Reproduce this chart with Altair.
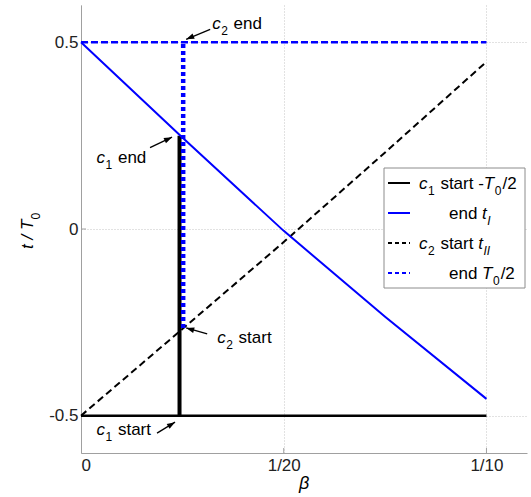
import math
import altair as alt
import pandas as pd

# ---- axis ranges and plot geometry ----
BETA_MAX = 0.11
T_MIN, T_MAX = -0.6, 0.6
W, H = 446, 448
PAD_L, PAD_T = 81, 5

# ---- curves over beta ----
beta_grid = [0.0, 0.025, 0.05, 0.075, 0.1]
t_end_I = [0.5, 0.245, -0.005, -0.235, -0.455]        # end t_I (blue solid)
t_start_II = [-0.5, -0.268, -0.035, 0.205, 0.448]     # c2 start t_II (black dashed)

# constant levels -T0/2 and T0/2
level_beta = [0.0, 0.1]
level_low = -0.5
level_high = 0.5

# the two chosen intervals
beta_c1 = 0.0243
c1_span = [-0.5, 0.25]
beta_c2 = 0.0252
c2_span = [-0.265, 0.5]

x_ticks = [0.0, 0.05, 0.1]
x_tick_labels = ["0", "1/20", "1/10"]
y_ticks = [-0.5, 0.0, 0.5]
y_tick_labels = ["-0.5", "0", "0.5"]

FONT = "Liberation Sans"
BLUE = "#0000ff"
BLACK = "#000000"
AXIS_GRAY = "#a0a0a0"
TEXT = "#222222"


def label_expr(values, labels):
    expr = "''"
    for v, s in reversed(list(zip(values, labels))):
        expr = f"abs(datum.value - ({v})) < 1e-9 ? '{s}' : ({expr})"
    return expr


def px(beta):
    return W * beta / BETA_MAX


def py(t):
    return H * (T_MAX - t) / (T_MAX - T_MIN)


xs = alt.Scale(domain=[0, BETA_MAX], nice=False, zero=False)
ys = alt.Scale(domain=[T_MIN, T_MAX], nice=False, zero=False)

x_axis = alt.Axis(values=x_ticks, labelExpr=label_expr(x_ticks, x_tick_labels),
                  title=None, grid=True, gridDash=[1, 2], gridColor="#c4c4c4",
                  domainColor=AXIS_GRAY, tickSize=0, labelPadding=4,
                  labelFont=FONT, labelFontSize=17, labelColor=TEXT)
y_axis = alt.Axis(values=y_ticks, labelExpr=label_expr(y_ticks, y_tick_labels),
                  title=None, grid=True, gridDash=[1, 2], gridColor="#c4c4c4",
                  domainColor=AXIS_GRAY, tickSize=0, labelPadding=3,
                  labelFont=FONT, labelFontSize=17, labelColor=TEXT)

curves = pd.DataFrame({"beta": beta_grid, "t_I": t_end_I, "t_II": t_start_II})
levels = pd.DataFrame({"beta": [level_beta[0]], "beta2": [level_beta[1]],
                       "low": [level_low], "high": [level_high]})
verticals = pd.DataFrame({"beta": [beta_c1, beta_c2],
                          "t0": [c1_span[0], c2_span[0]],
                          "t1": [c1_span[1], c2_span[1]],
                          "which": ["c1", "c2"]})

axes_layer = alt.Chart(curves).mark_point(opacity=0).encode(
    x=alt.X("beta:Q", scale=xs, axis=x_axis),
    y=alt.Y("t_I:Q", scale=ys, axis=y_axis),
)

# inward tick marks
xtick_df = pd.DataFrame({"v": x_ticks[1:]})
ytick_df = pd.DataFrame({"v": y_ticks})
xticks_layer = alt.Chart(xtick_df).mark_rule(color=AXIS_GRAY, strokeWidth=1).encode(
    x=alt.X("v:Q", scale=xs), y=alt.value(H), y2=alt.value(H - 5))
yticks_layer = alt.Chart(ytick_df).mark_rule(color=AXIS_GRAY, strokeWidth=1).encode(
    y=alt.Y("v:Q", scale=ys), x=alt.value(0), x2=alt.value(5))

low_line = alt.Chart(levels).mark_rule(color=BLACK, strokeWidth=2.5).encode(
    x=alt.X("beta:Q", scale=xs), x2="beta2:Q", y=alt.Y("low:Q", scale=ys))
high_line = alt.Chart(levels).mark_rule(color=BLUE, strokeWidth=2.5,
                                         strokeDash=[7, 3]).encode(
    x=alt.X("beta:Q", scale=xs), x2="beta2:Q", y=alt.Y("high:Q", scale=ys))

t2_line = alt.Chart(curves).mark_line(color=BLACK, strokeWidth=2,
                                      strokeDash=[7, 4]).encode(
    x=alt.X("beta:Q", scale=xs), y=alt.Y("t_II:Q", scale=ys))
t1_line = alt.Chart(curves).mark_line(color=BLUE, strokeWidth=2).encode(
    x=alt.X("beta:Q", scale=xs), y=alt.Y("t_I:Q", scale=ys))

c1_bar = alt.Chart(verticals).transform_filter("datum.which == 'c1'").mark_rule(
    color=BLACK, strokeWidth=4).encode(
    x=alt.X("beta:Q", scale=xs), y=alt.Y("t0:Q", scale=ys), y2="t1:Q")
c2_bar = alt.Chart(verticals).transform_filter("datum.which == 'c2'").mark_rule(
    color=BLUE, strokeWidth=4.5, strokeDash=[4, 3], strokeCap="butt").encode(
    x=alt.X("beta:Q", scale=xs), y=alt.Y("t0:Q", scale=ys), y2="t1:Q")

# ---- text layout helpers (Arial-style advance widths, per 1000 em) ----
ADV = {" ": 278, "-": 333, "/": 278, "a": 556, "c": 500, "d": 556, "e": 556,
       "n": 556, "r": 333, "s": 500, "t": 278, "T": 611, "I": 278}
for d in "0123456789":
    ADV[d] = 556


def text_width(s, size):
    return sum(ADV.get(ch, 556) for ch in s) / 1000 * size


def lay_out(x0, base, tokens, size=17, sub_size=12):
    """Place a run of text pieces left to right.

    kinds: 'n' upright, 'i' italic, 's' upright subscript, 'si' italic subscript.
    Leading/trailing blanks are turned into advances (SVG drops them)."""
    rows, x = [], x0
    for text, kind in tokens:
        sub = kind.startswith("s")
        fs = sub_size if sub else size
        lead = len(text) - len(text.lstrip(" "))
        x += lead * text_width(" ", fs)
        core = text.strip(" ")
        rows.append(dict(x=x + (0.5 if sub else 0), y=base + (6 if sub else 0),
                         text=core, size=fs,
                         italic=kind in ("i", "si"), angle=0))
        x += text_width(core, fs) + (1.5 if sub else 0)
        trail = len(text) - len(text.rstrip(" "))
        x += trail * text_width(" ", fs)
    return rows


texts = []
arrows = []

# annotations: target point, arrow tip / tail and text start as pixel offsets
annotations = [
    ((beta_c2, c2_span[1]), (3, -3), (27, -13), (29, -13), [("c", "i"), ("2", "s"), (" end", "n")]),
    ((beta_c1, c1_span[1]), (-7.5, 1.5), (-29.5, 12), (-83, 27), [("c", "i"), ("1", "s"), (" end", "n")]),
    ((beta_c2, c2_span[0]), (3, 0), (24, 6), (34, 15), [("c", "i"), ("2", "s"), (" start", "n")]),
    ((beta_c1, c1_span[0]), (-4.5, 6.5), (-22.5, 17.5), (-83, 19.5), [("c", "i"), ("1", "s"), (" start", "n")]),
]
for (b, t), tip, tail, tpos, tokens in annotations:
    X, Y = px(b), py(t)
    tx, ty = X + tip[0], Y + tip[1]
    sx, sy = X + tail[0], Y + tail[1]
    ang = math.degrees(math.atan2(tx - sx, -(ty - sy))) % 360
    arrows.append(dict(x=sx, y=sy, x2=tx, y2=ty, angle=ang))
    texts += lay_out(X + tpos[0], Y + tpos[1], tokens)

# legend
LEG_X0, LEG_X1 = 303, 444
LEG_Y0, LEG_Y1 = 163, 283
leg_rows = [178, 208, 238, 268]
legend_entries = [
    (BLACK, False, 338, [("c", "i"), ("1", "s"), (" start -", "n"), ("T", "i"), ("0", "s"), ("/2", "n")]),
    (BLUE, False, 368, [("end ", "n"), ("t", "i"), ("I", "si")]),
    (BLACK, True, 338, [("c", "i"), ("2", "s"), (" start ", "n"), ("t", "i"), ("II", "si")]),
    (BLUE, True, 368, [("end ", "n"), ("T", "i"), ("0", "s"), ("/2", "n")]),
]
swatches = []
for yc, (col, dashed, x0, tokens) in zip(leg_rows, legend_entries):
    swatches.append(dict(x=307, x2=329, y=yc, color=col, dashed=dashed))
    texts += lay_out(x0, yc + 6, tokens, size=17, sub_size=12)

# axis titles
texts.append(dict(x=33 - PAD_L, y=249 - PAD_T, text="t / T", size=17, italic=True, angle=270))
texts.append(dict(x=39.5 - PAD_L, y=219.5 - PAD_T, text="0", size=12, italic=False, angle=270))
texts.append(dict(x=W / 2 - 5, y=489 - PAD_T, text="β", size=18, italic=True, angle=0))

text_df = pd.DataFrame(texts)
arrow_df = pd.DataFrame(arrows)
swatch_df = pd.DataFrame(swatches)
box_df = pd.DataFrame([dict(x=LEG_X0, x2=LEG_X1, y=LEG_Y0, y2=LEG_Y1)])

pix = dict(scale=None)


def text_layer(italic):
    return alt.Chart(text_df).transform_filter(
        f"datum.italic == {'true' if italic else 'false'}"
    ).mark_text(align="left", baseline="alphabetic", font=FONT, color=BLACK,
                fontStyle="italic" if italic else "normal").encode(
        x=alt.X("x:Q", **pix), y=alt.Y("y:Q", **pix), text="text:N",
        size=alt.Size("size:Q", **pix), angle=alt.Angle("angle:Q", **pix))


shafts = alt.Chart(arrow_df).mark_rule(color=BLACK, strokeWidth=1.3).encode(
    x=alt.X("x:Q", **pix), y=alt.Y("y:Q", **pix),
    x2="x2:Q", y2="y2:Q")
heads = alt.Chart(arrow_df).mark_point(
    shape="M0,0L-0.6,1.7L0.6,1.7Z", filled=True, size=90, opacity=1, color=BLACK
).encode(x=alt.X("x2:Q", **pix), y=alt.Y("y2:Q", **pix),
         angle=alt.Angle("angle:Q", **pix))

box = alt.Chart(box_df).mark_rect(fill="white", stroke="#8c8c8c", strokeWidth=1).encode(
    x=alt.X("x:Q", **pix), x2="x2:Q", y=alt.Y("y:Q", **pix), y2="y2:Q")
swatch_solid = alt.Chart(swatch_df).transform_filter("!datum.dashed").mark_rule(
    strokeWidth=2).encode(x=alt.X("x:Q", **pix), x2="x2:Q", y=alt.Y("y:Q", **pix),
                          color=alt.Color("color:N", scale=None))
swatch_dash = alt.Chart(swatch_df).transform_filter("datum.dashed").mark_rule(
    strokeWidth=2, strokeDash=[4, 3]).encode(x=alt.X("x:Q", **pix), x2="x2:Q",
                                             y=alt.Y("y:Q", **pix),
                                             color=alt.Color("color:N", scale=None))

chart = alt.layer(
    axes_layer, xticks_layer, yticks_layer,
    low_line, high_line, t2_line, c1_bar, c2_bar, t1_line,
    shafts, heads,
    box, swatch_solid, swatch_dash,
    text_layer(False), text_layer(True),
).properties(
    width=W, height=H,
    autosize=alt.AutoSizeParams(type="none"),
    padding={"left": PAD_L, "top": PAD_T, "right": 531 - PAD_L - W, "bottom": 497 - PAD_T - H},
    background="white",
).configure_view(stroke=None)

chart.save("out.html", embed_options={"renderer": "svg", "actions": False})
